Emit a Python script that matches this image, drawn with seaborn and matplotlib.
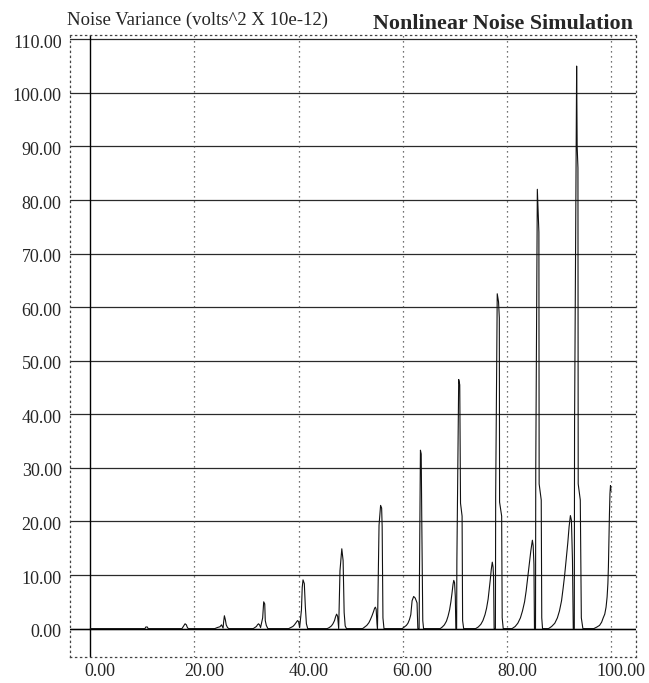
import matplotlib
matplotlib.use("Agg")
import matplotlib.pyplot as plt
from matplotlib.transforms import ScaledTranslation
import numpy as np
import pandas as pd
import seaborn as sns

# ---- data (x, noise variance) ----
start_x = [0.0]
start_y = [0.0]
p01_x = [10.5, 10.65, 10.95, 11.1]
p01_y = [0.0, 0.3, 0.3, 0.0]
p02_x = [17.6, 17.8, 18.0, 18.2, 18.45, 18.6, 18.8]
p02_y = [0.0, 0.3, 0.6, 0.9, 0.7, 0.3, 0.0]
p03_x = [23.9, 24.4, 24.9, 25.2, 25.5, 25.6, 25.75, 25.95, 26.1, 26.35, 26.6]
p03_y = [0.0, 0.2, 0.35, 0.7, 0.1, 1.2, 2.4, 1.6, 0.7, 0.2, 0.0]
p04_x = [31.3, 31.6, 31.9, 32.1, 32.3, 32.5, 32.7, 33.1, 33.3, 33.5, 33.6, 33.8, 34.1]
p04_y = [0.0, 0.2, 0.4, 0.7, 0.9, 0.7, 0.2, 2.0, 5.0, 4.6, 1.5, 0.6, 0.0]
p05_x = [38.1, 38.5, 38.9, 39.2, 39.5, 39.8, 40.0, 40.2, 40.55, 40.7, 40.85, 41.1, 41.3, 41.5, 41.75]
p05_y = [0.0, 0.2, 0.4, 0.7, 1.1, 1.5, 1.3, 0.2, 3.5, 7.7, 9.1, 8.4, 4.0, 0.9, 0.0]
p06_x = [45.5, 45.9, 46.3, 46.6, 46.9, 47.1, 47.3, 47.5, 47.7, 47.95, 48.3, 48.55, 48.75, 48.95, 49.2]
p06_y = [0.0, 0.2, 0.5, 0.9, 1.5, 2.2, 2.7, 2.3, 0.0, 10.8, 14.9, 12.7, 3.0, 0.5, 0.0]
p07_x = [52.3, 52.7, 53.1, 53.5, 53.8, 54.1, 54.4, 54.6, 54.75, 54.9, 55.05, 55.15, 55.45,
         55.75, 55.95, 56.05, 56.2, 56.4]
p07_y = [0.0, 0.3, 0.6, 1.1, 1.7, 2.4, 3.2, 3.8, 4.0, 3.6, 1.0, 0.0, 19.3,
         23.0, 22.5, 19.0, 2.0, 0.0]
p08_x = [59.9, 60.3, 60.7, 61.0, 61.3, 61.55, 61.8, 62.1, 62.4, 62.75, 62.9, 63.15, 63.2,
         63.4, 63.55, 63.65, 63.85, 64.0]
p08_y = [0.0, 0.3, 0.6, 1.0, 1.7, 2.6, 5.2, 6.0, 5.7, 4.8, 0.0, 0.0, 8.0,
         33.3, 32.6, 21.1, 1.5, 0.0]
p09_x = [67.2, 67.6, 68.0, 68.4, 68.7, 69.0, 69.25, 69.45, 69.65, 69.8, 69.95, 70.1, 70.2,
         70.35, 70.4, 70.75, 70.95, 71.1, 71.4, 71.5, 71.7]
p09_y = [0.0, 0.3, 0.7, 1.4, 2.3, 3.5, 5.0, 6.5, 8.2, 9.0, 8.6, 6.0, 0.0,
         0.0, 12.7, 46.5, 45.5, 23.4, 21.0, 1.5, 0.0]
p10_x = [74.0, 74.5, 75.0, 75.4, 75.8, 76.1, 76.4, 76.6, 76.8, 77.0, 77.2, 77.35, 77.45,
         77.55, 77.8, 77.85, 78.15, 78.4, 78.55, 78.6, 79.0, 79.1, 79.3]
p10_y = [0.0, 0.3, 0.8, 1.5, 2.6, 3.8, 5.5, 7.2, 9.0, 11.0, 12.4, 11.5, 9.5,
         0.0, 0.0, 24.8, 62.5, 61.0, 58.0, 23.6, 21.0, 2.0, 0.0]
p11_x = [81.0, 81.6, 82.1, 82.6, 83.0, 83.4, 83.7, 84.0, 84.3, 84.6, 84.9, 85.05, 85.2,
         85.3, 85.5, 85.55, 85.85, 86.05, 86.15, 86.2, 86.6, 86.7, 86.85]
p11_y = [0.0, 0.4, 1.0, 2.0, 3.3, 5.0, 7.0, 9.5, 12.0, 14.5, 16.5, 15.5, 12.0,
         0.0, 0.0, 30.0, 82.0, 77.0, 74.0, 27.0, 24.0, 2.0, 0.0]
p12_x = [88.0, 88.6, 89.2, 89.7, 90.1, 90.5, 90.8, 91.1, 91.4, 91.7, 91.95, 92.2, 92.4,
         92.6, 92.75, 92.95, 93.0, 93.4, 93.5, 93.65, 93.7, 94.1, 94.3, 94.6]
p12_y = [0.0, 0.4, 1.0, 2.0, 3.3, 5.2, 7.5, 10.0, 13.0, 16.0, 19.0, 21.1, 20.2,
         12.7, 0.0, 0.0, 38.0, 105.0, 90.0, 86.0, 27.0, 24.0, 2.0, 0.0]
p13_x = [96.7, 97.3, 97.8, 98.2, 98.5, 98.8, 99.05, 99.25, 99.4, 99.5, 99.6, 99.7, 99.8,
         99.9, 100.0]
p13_y = [0.0, 0.3, 0.6, 1.2, 2.0, 2.7, 4.0, 5.9, 8.4, 11.5, 16.5, 21.4, 25.2,
         26.7, 25.8]

x_ticks = [0, 20, 40, 60, 80, 100]
x_labels = ["0.00", "20.00", "40.00", "60.00", "80.00", "100.00"]
y_ticks = [0, 10, 20, 30, 40, 50, 60, 70, 80, 90, 100, 110]
y_labels = ["0.00", "10.00", "20.00", "30.00", "40.00", "50.00", "60.00",
            "70.00", "80.00", "90.00", "100.00", "110.00"]
title_text = "Nonlinear Noise Simulation"
ylabel_text = "Noise Variance (volts^2 X 10e-12)"

xs = (start_x + p01_x + p02_x + p03_x + p04_x + p05_x + p06_x + p07_x + p08_x
      + p09_x + p10_x + p11_x + p12_x + p13_x)
ys = (start_y + p01_y + p02_y + p03_y + p04_y + p05_y + p06_y + p07_y + p08_y
      + p09_y + p10_y + p11_y + p12_y + p13_y)
df = pd.DataFrame({"x": xs, "y": ys})

sns.set_style("white")
plt.rcParams["font.family"] = ["Liberation Serif", "DejaVu Serif"]

fig = plt.figure(figsize=(6.49, 6.83), dpi=100)
ax = fig.add_axes([70 / 649, 26 / 683, 566 / 649, 622 / 683])

ax.set_xlim(-3.9, 104.8)
ax.set_ylim(-5.3, 110.8)

dotted = (0, (1, 3))
for s in ["top", "bottom", "left", "right"]:
    ax.spines[s].set_visible(True)
    ax.spines[s].set_linestyle(dotted)
    ax.spines[s].set_linewidth(0.9)
    ax.spines[s].set_color("#444444")

for yv in y_ticks:
    ax.axhline(yv, color="#2a2a2a", lw=0.9, zorder=1)
for xv in x_ticks[1:]:
    ax.axvline(xv, color="#444444", lw=0.9, ls=dotted, zorder=1)
ax.axvline(0, color="black", lw=1.0, zorder=1)
ax.axhline(0, color="black", lw=1.0, zorder=1)

sns.lineplot(data=df, x="x", y="y", ax=ax, color="#111111", lw=0.8,
             estimator=None, sort=False, zorder=3)

ax.set_xticks(x_ticks)
ax.set_xticklabels(x_labels, fontsize=13)
ax.set_yticks(y_ticks)
ax.set_yticklabels(y_labels, fontsize=13)
ax.tick_params(axis="both", length=0)
ax.tick_params(axis="x", pad=4)
ax.tick_params(axis="y", pad=6)
for lab in ax.get_xticklabels():
    lab.set_transform(lab.get_transform() + ScaledTranslation(10 / 100, 0, fig.dpi_scale_trans))
for lab in ax.get_yticklabels():
    lab.set_transform(lab.get_transform() + ScaledTranslation(0, -2 / 100, fig.dpi_scale_trans))
ax.set_xlabel("")
ax.set_ylabel("")

fig.text(67 / 649, 1 - 25 / 683, ylabel_text, fontsize=13.5, ha="left", va="baseline")
fig.text(633 / 649, 1 - 29 / 683, title_text, fontsize=15.8, fontweight="bold",
         ha="right", va="baseline")

fig.savefig("out.png", dpi=100)
